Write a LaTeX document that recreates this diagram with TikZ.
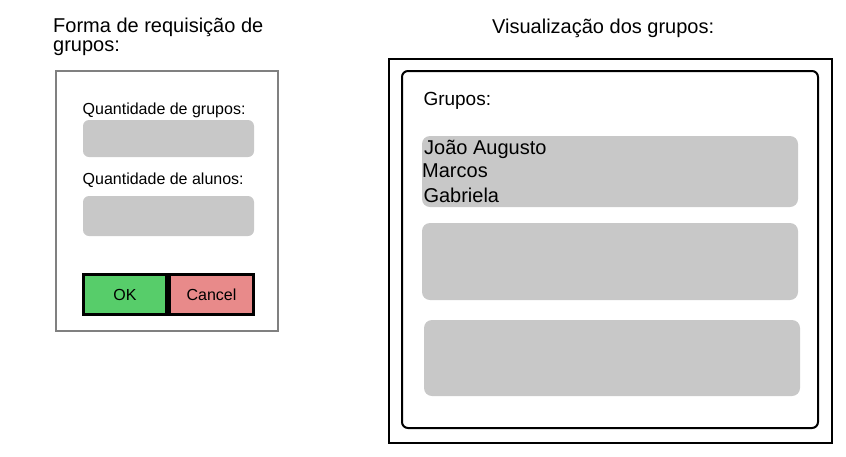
\documentclass[tikz,border=0pt]{standalone}
\usepackage{fontspec}
\setmainfont{Liberation Sans}
\usepackage{tikz}

\definecolor{fieldgray}{RGB}{200,200,200}
\definecolor{okgreen}{RGB}{87,205,106}
\definecolor{cancelred}{RGB}{232,138,138}
\definecolor{framegray}{RGB}{128,128,128}

\begin{document}
\begin{tikzpicture}[x={(1pt,0pt)}, y={(0pt,-1pt)}]
 \tikzstyle{field} = [fill=fieldgray,draw=none,rounded corners=6pt]
 \tikzstyle{btnbox} = [draw=black,line width=2.5pt]
 \tikzstyle{lbl} = [anchor=base west,inner sep=0pt,font=\fontsize{16}{19}\selectfont]
 \tikzstyle{title} = [anchor=base west,inner sep=0pt,font=\fontsize{20}{24}\selectfont]
 \newcommand{\lw}{2pt}

 \useasboundingbox (0,0) rectangle (846,456);

  % Request form
  \draw[framegray,line width=\lw] (56,71) rectangle (278,331);
  \node[title] (formtitle) at (53,32) {Forma de requisição de};
  \node[title] (formtitleb) at (53,51.5) {grupos:};

  \node[lbl] (qgrupos) at (82.5,114) {Quantidade de grupos:};
  \fill[field] (83,120) rectangle (254,157);
  \node[lbl] (qalunos) at (82.5,184) {Quantidade de alunos:};
  \fill[field] (83,196) rectangle (254,236);

  % Buttons
  \draw[btnbox,fill=okgreen] (83.5,274.5) rectangle (166.5,314.5);
  \node[font=\fontsize{16}{19}\selectfont] (ok) at (125,294.5) {OK};
  \draw[btnbox,fill=cancelred] (169.5,274.5) rectangle (253.5,314.5);
  \node[font=\fontsize{16}{19}\selectfont] (cancel) at (211.5,294.5) {Cancel};

  % Group view
  \node[title] (viewtitle) at (492,33) {Visualização dos grupos:};
  \draw[black,line width=\lw] (389,59) rectangle (832,443);
  \draw[black,line width=\lw,rounded corners=6pt] (402,71) rectangle (818,428);
  \node[anchor=base west,inner sep=0pt,font=\fontsize{19}{23}\selectfont] (grupos) at (423.3,105) {Grupos:};

  \fill[field,rounded corners=8pt] (422,136) rectangle (798,207);
  \node[title] (joao) at (424,154) {João Augusto};
  \node[title] (marcos) at (422,177) {Marcos};
  \node[title] (gabriela) at (423.3,202) {Gabriela};

  \fill[field,rounded corners=8pt] (422,223) rectangle (798,300);
  \fill[field,rounded corners=8pt] (424,320) rectangle (800,396);

\end{tikzpicture}
\end{document}
